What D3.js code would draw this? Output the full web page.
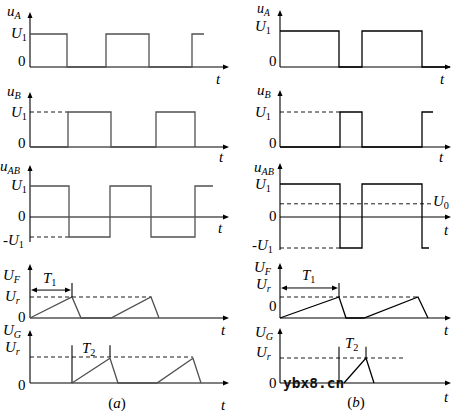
<!DOCTYPE html>
<html><head><meta charset="utf-8">
<script src="https://cdn.jsdelivr.net/npm/d3@7"></script>
<style>body{margin:0;background:#fff}svg{display:block}</style>
</head><body><div id="c"></div>
<script>
// ---- data (time units, amplitude in units of U1 / Ur) ----
const uA_a  = [[0,1],[37,0],[76,1],[119,0],[162,1],[174,1]];
const uB_a  = [[0,0],[38,1],[81,0],[126,1],[165,0],[165,0]];
const uAB_a = [[0,1],[39,-1],[80,1],[121,-1],[165,1],[183,1]];
const UF_a  = [[0,0],[42,1],[51,0],[81,0],[121,1],[129,0]];
const UG_a  = [[42,0],[80,0.95],[88,0],[127,0],[163,0.95],[171,0]];
const T1_a = [0,42], T2_a = [42,80];

const uA_b  = [[0,1],[59,0],[82,1],[142,0],[170,0]];
const uB_b  = [[0,0],[60,1],[82,0],[142,1],[153,1]];
const uAB_b = [[0,1],[60,-1],[82,1],[142,-1],[149,-1]];
const U0_b  = 0.4;
const UF_b  = [[0,0],[59,1],[66,0],[84,0],[138,1],[148,0]];
const UG_b  = [[64,0],[86,1],[94,0]];
const T1_b = [0,59], T2_b = [59,86];

const panelNames = ["(a)", "(b)"];

// ---- drawing ----
const W=461,H=413;
const svg=d3.select("#c").append("svg").attr("width",W).attr("height",H);
const serif="'Liberation Serif','Times New Roman',serif";

function lab(x,y,main,sub,o={}){
  const t=svg.append("text").attr("x",x).attr("y",y).attr("font-family",serif)
    .attr("font-size",o.fs||15).attr("fill","#000");
  if(o.pre) t.append("tspan").text(o.pre);
  t.append("tspan").attr("font-style",o.up?"normal":"italic").text(main);
  if(sub!=null) t.append("tspan").attr("font-size",(o.fs||15)*0.68).attr("dy",3)
      .attr("font-style",/\d/.test(sub)?"normal":"italic").text(sub);
  return t;
}
function arrowHead(x,y,dir){
  const s=6,w=2.5;
  let p;
  if(dir==="r") p=[[x,y],[x-s,y-w],[x-s,y+w]];
  if(dir==="l") p=[[x,y],[x+s,y-w],[x+s,y+w]];
  if(dir==="u") p=[[x,y],[x-w,y+s],[x+w,y+s]];
  svg.append("path").attr("d","M"+p.map(d=>d.join(",")).join("L")+"Z").attr("fill","#000");
}
function axes(x0,x1,yBase,yTop,yBot){
  svg.append("line").attr("x1",x0).attr("x2",x1-4).attr("y1",yBase).attr("y2",yBase).attr("stroke","#000").attr("stroke-width",1.1);
  arrowHead(x1,yBase,"r");
  svg.append("line").attr("x1",x0).attr("x2",x0).attr("y1",yBot).attr("y2",yTop+4).attr("stroke","#000").attr("stroke-width",1.1);
  arrowHead(x0,yTop,"u");
}
function dashed(x0,x1,y){
  svg.append("line").attr("x1",x0).attr("x2",x1).attr("y1",y).attr("y2",y)
    .attr("stroke","#000").attr("stroke-width",0.9).attr("stroke-dasharray","4,3");
}
function vline(x,y0,y1,col){
  svg.append("line").attr("x1",x).attr("x2",x).attr("y1",y0).attr("y2",y1).attr("stroke",col||"#000").attr("stroke-width",1.1);
}
function wave(data,x,y,step,col){
  const g=d3.line().x(d=>x(d[0])).y(d=>y(d[1]));
  if(step) g.curve(d3.curveStepAfter);
  svg.append("path").attr("d",g(data)).attr("fill","none").attr("stroke",col).attr("stroke-width",1.3);
}

const P=[
 {x:d3.scaleLinear().domain([0,200]).range([30,230]), xEnd:229, col:"#505050",
  rows:{uA:[67,34,12], uB:[147,112,92], uAB:[[-1,0,1],[237,217,186],165,242], UF:[318,297,264], UG:[383,357,330]},
  d:{uA:uA_a,uB:uB_a,uAB:uAB_a,UF:UF_a,UG:UG_a,T1:T1_a,T2:T2_a}},
 {x:d3.scaleLinear().domain([0,170]).range([280,450]), xEnd:451, col:"#000",
  rows:{uA:[67,31,10], uB:[147,112,90], uAB:[[-1,0,1],[248,217,184],163,250], UF:[318,297,263], UG:[383,358,328]},
  d:{uA:uA_b,uB:uB_b,uAB:uAB_b,UF:UF_b,UG:UG_b,T1:T1_b,T2:T2_b}}
];

P.forEach((p,i)=>{
  const x=p.x, x0=x(0), R=p.rows, D=p.d;
  const ys=r=>d3.scaleLinear().domain([0,1]).range([r[0],r[1]]);
  // row 1 uA
  let y=ys(R.uA); axes(x0,p.xEnd,R.uA[0],R.uA[2],R.uA[0]);
  wave(D.uA,x,y,true,p.col);
  // row 2 uB
  y=ys(R.uB); axes(x0,p.xEnd,R.uB[0],R.uB[2],R.uB[0]);
  dashed(x0,x(D.uB.find(d=>d[1]===1)[0]),y(1));
  wave(D.uB,x,y,true,p.col);
  // row 3 uAB
  y=d3.scaleLinear().domain(R.uAB[0]).range(R.uAB[1]);
  axes(x0,p.xEnd,y(0),R.uAB[2],R.uAB[3]);
  dashed(x0,x(D.uAB.find(d=>d[1]===-1)[0]),y(-1));
  if(i===1) dashed(x0,x(153),y(U0_b));
  wave(D.uAB,x,y,true,p.col);
  // row 4 UF
  y=ys(R.UF); axes(x0,p.xEnd,R.UF[0],R.UF[2],R.UF[0]);
  const pk=D.UF.filter(d=>d[1]===1);
  dashed(x0,x(pk[pk.length-1][0]),y(1));
  wave(D.UF,x,y,false,p.col);
  const ya=y(i===0?1.33:1.43);
  svg.append("line").attr("x1",x(D.T1[0])+4).attr("x2",x(D.T1[1])-4).attr("y1",ya).attr("y2",ya).attr("stroke","#000").attr("stroke-width",1);
  arrowHead(x(D.T1[0])+1,ya,"l"); arrowHead(x(D.T1[1])-1,ya,"r");
  vline(x(D.T1[1]),y(1.67),y(1));
  // row 5 UG
  y=ys(R.UG); axes(x0,p.xEnd,R.UG[0],R.UG[2],R.UG[0]);
  const pg=D.UG.filter(d=>d[1]>0.5);
  dashed(x0,i===0?x(pg[pg.length-1][0]):x(123),y(1));
  vline(x(D.T2[0]),y(1.45),y(0));
  vline(x(D.T2[1]),y(1.45),y(1));
  wave(D.UG,x,y,false,p.col);
});

// ---- labels panel (a) ----
lab(7,16,"u","A");
lab(11,38,"U","1");
lab(18,66,"0",null,{up:true});
lab(216,84,"t");
lab(7,96,"u","B");
lab(11,117,"U","1");
lab(18,148,"0",null,{up:true});
lab(219,162,"t");
lab(0,171,"u","AB");
lab(11,190,"U","1");
lab(18,221,"0",null,{up:true});
lab(3,245,"U","1",{pre:"-"});
lab(218,233,"t");
lab(3,280,"U","F");
lab(5,301,"U","r");
lab(18,322,"0",null,{up:true});
lab(43,283,"T","1");
lab(221,335,"t");
lab(3,335,"U","G");
lab(5,352,"U","r");
lab(18,390,"0",null,{up:true});
lab(82,353,"T","2");
lab(221,410,"t");
svg.append("text").attr("x",117).attr("y",408).attr("text-anchor","middle").attr("font-family",serif).attr("font-size",15)
  .html('(<tspan font-style="italic">a</tspan>)');

// ---- labels panel (b) ----
lab(257,13,"u","A",{fs:14});
lab(255,31,"U","1");
lab(269,66,"0",null,{up:true});
lab(440,84,"t");
lab(257,95,"u","B");
lab(255,117,"U","1");
lab(269,148,"0",null,{up:true});
lab(439,162,"t");
lab(254,172,"u","AB");
lab(255,189,"U","1");
lab(269,221,"0",null,{up:true});
lab(252,250,"U","1",{pre:"-"});
lab(433,206,"U","0");
lab(444,235,"t");
lab(254,272,"U","F");
lab(256,289,"U","r");
lab(269,311,"0",null,{up:true});
lab(302,280,"T","1");
lab(444,335,"t");
lab(255,337,"U","G");
lab(256,357,"U","r");
lab(269,388,"0",null,{up:true});
lab(345,348,"T","2");
lab(444,402,"t");
svg.append("text").attr("x",356).attr("y",407).attr("text-anchor","middle").attr("font-family",serif).attr("font-size",15)
  .html('(<tspan font-style="italic">b</tspan>)');
svg.append("text").attr("x",283).attr("y",388).attr("font-family","'DejaVu Sans Mono',monospace").attr("font-weight","bold")
  .attr("font-size",14.5).attr("fill","#111").text("ybx8.cn");
</script></body></html>
